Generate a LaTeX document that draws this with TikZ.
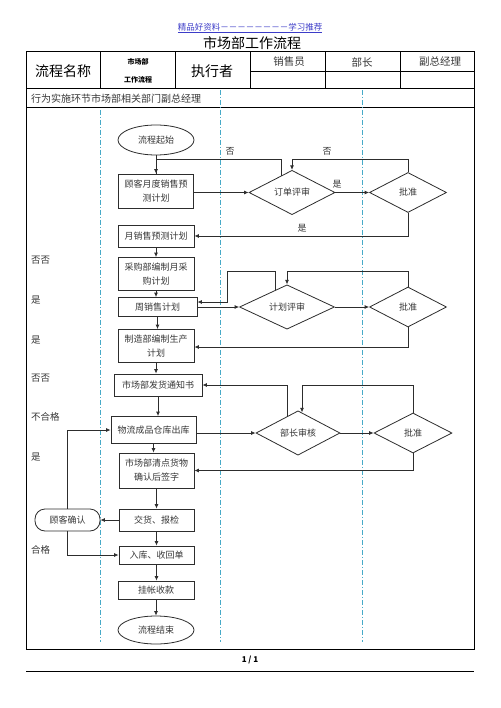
\documentclass[tikz,border=0pt]{standalone}
\usepackage{fontspec}
\setmainfont{Noto Sans CJK SC}
\usetikzlibrary{shapes.geometric,arrows.meta,calc}
\definecolor{lanec}{RGB}{70,170,200}
\definecolor{linkblue}{RGB}{60,60,200}
\definecolor{txt}{RGB}{55,55,55}
\definecolor{edgec}{RGB}{45,45,45}
\begin{document}
\begin{tikzpicture}[x=1pt,y=-1pt,
  box/.style={draw=edgec, line width=0.8pt, fill=white, font=\fontsize{9}{14}\selectfont, text=txt, align=center, inner sep=0pt},
  dia/.style={diamond, draw=edgec, line width=0.8pt, fill=white, inner sep=0pt, font=\fontsize{9}{11}\selectfont, text=txt},
  ell/.style={ellipse, draw=edgec, line width=0.8pt, fill=white, inner sep=0pt, font=\fontsize{9}{11}\selectfont, text=txt},
  conn/.style={draw=edgec, line width=0.8pt},
  arr/.style={draw=edgec, line width=0.8pt, -{Latex[length=4.5pt,width=4pt]}},
  laneline/.style={draw=lanec, line width=0.7pt, dash pattern=on 5pt off 2pt on 1pt off 2pt},
  lbl/.style={font=\fontsize{9}{10}\selectfont, text=txt, inner sep=0pt},
  side/.style={font=\fontsize{9.5}{11}\selectfont, text=txt, inner sep=0pt, anchor=west},
  head/.style={font=\fontsize{10.5}{12}\selectfont, text=txt, inner sep=0pt},
  big/.style={font=\fontsize{14}{16}\selectfont, text=black, inner sep=0pt}
]
\useasboundingbox (0,0) rectangle (500,708);

% header texts
\node[text=linkblue, font=\fontsize{8.5}{10}\selectfont, inner sep=0pt] (link) at (250,28) {\underline{精品好资料－－－－－－－－学习推荐}};
\node[big] (title) at (252,43) {市场部工作流程};

% table
\draw[line width=1pt] (26,52) rectangle (474,649);
\draw[line width=1pt] (26,89) -- (474,89);
\draw[line width=1pt] (26,108) -- (474,108);
\foreach \x in {100,175,250,325,400} \draw[line width=1pt] (\x,52) -- (\x,89);
\draw[line width=0.8pt] (250,71) -- (474,71);

\node[big] (h1) at (63,71) {流程名称};
\node[font=\fontsize{7}{8}\selectfont\bfseries, inner sep=0pt] (h2a) at (138,62) {市场部};
\node[font=\fontsize{7}{8}\selectfont\bfseries, inner sep=0pt] (h2b) at (138,80) {工作流程};
\node[big] (h3) at (212,71) {执行者};
\node[head] (h4) at (289,62) {销售员};
\node[head] (h5) at (362,62) {部长};
\node[head] (h6) at (440,62) {副总经理};
\node[font=\fontsize{10}{12}\selectfont, text=txt, inner sep=0pt, anchor=west] (row) at (31,99) {行为实施环节市场部相关部门副总经理};

% lanes
\draw[laneline] (100,110) -- (100,642);
\draw[laneline] (220,90) -- (220,642);
\draw[laneline] (362,90) -- (362,642);

% main column
\node[ell, minimum width=76pt, minimum height=30pt] (start) at (156,140) {流程起始};
\node[box, minimum width=75pt, minimum height=34pt] (b1) at (156,191) {顾客月度销售预\\测计划};
\node[box, minimum width=76pt, minimum height=22pt] (b2) at (156,236) {月销售预测计划};
\node[box, minimum width=76pt, minimum height=33pt] (b3) at (156,274) {采购部编制月采\\购计划};
\node[box, minimum width=79pt, minimum height=19pt] (b4) at (157.5,307) {周销售计划};
\node[box, minimum width=76pt, minimum height=33pt] (b5) at (156,346) {制造部编制生产\\计划};
\node[box, minimum width=88pt, minimum height=22pt] (b6) at (158,385) {市场部发货通知书};
\node[box, minimum width=85pt, minimum height=27pt] (b7) at (153.5,430) {物流成品仓库出库};
\node[box, minimum width=75pt, minimum height=35pt] (b8) at (156.5,470.5) {市场部清点货物\\确认后签字};
\node[box, minimum width=75pt, minimum height=22pt] (b9) at (156.5,520) {交货、报检};
\node[box, minimum width=75pt, minimum height=18pt] (b10) at (156.5,555) {入库、收回单};
\node[box, minimum width=76pt, minimum height=18pt] (b11) at (156,590) {挂帐收款};
\node[ell, minimum width=76pt, minimum height=28pt] (end) at (156,630) {流程结束};
\node[box, rounded corners=10pt, minimum width=65pt, minimum height=22pt] (cc) at (67.5,520) {顾客确认};

% diamonds
\node[dia, minimum width=86pt, minimum height=37pt] (dA) at (292,192.5) {订单评审};
\node[dia, minimum width=77pt, minimum height=40pt] (aA) at (408,192.5) {批准};
\node[dia, minimum width=95pt, minimum height=40pt] (dB) at (287,307) {计划评审};
\node[dia, minimum width=77pt, minimum height=40pt] (aB) at (408,307) {批准};
\node[dia, minimum width=84pt, minimum height=40pt] (dC) at (298,433) {部长审核};
\node[dia, minimum width=78pt, minimum height=40pt] (aC) at (413,433) {批准};

% level coordinates
\coordinate (yA) at (0,159);
\coordinate (cB) at (227,271);
\coordinate (yC) at (0,385.5);

% vertical flow
\draw[conn] (start.south) -- (b1.north);
\draw[arr] (b2.south) -- (b2.south |- b3.north);
\draw[arr] (b3.south) -- (b3.south |- b4.north);
\draw[arr] (b4.south) -- (b4.south |- b5.north);
\draw[arr] (b5.south) -- (b5.south |- b6.north);
\draw[arr] (b6.south) -- (b6.south |- b7.north);
\draw[arr] (b7.south) -- (b7.south |- b8.north);
\draw[arr] (b8.south) -- (b8.south |- b9.north);
\draw[arr] (b9.south) -- (b9.south |- b10.north);
\draw[arr] (b10.south) -- (b10.south |- b11.north);
\draw[arr] (b11.south) -- (b11.south |- end.north);

% block A
\draw[arr] (b1.east |- dA.west) -- (dA.west);
\draw[arr] (dA.east) -- (aA.west);
\draw[arr] ($(dA.north)!0.25!(dA.west)$) |- (b1.north |- yA) -- (b1.north);
\draw[arr] (aA.north) |- (dA.north |- yA) -- (dA.north);
\draw[arr] (aA.south) |- (b2.east);
\node[lbl] (nA1) at (230,151) {否};
\node[lbl] (nA2) at (327,151) {否};
\node[lbl] (yA1) at (337,184) {是};
\node[lbl] (yA2) at (302,228) {是};

% block B
\draw[arr] (b4.east) -- (dB.west);
\draw[arr] (dB.east) -- (aB.west);
\draw[arr] ($(dB.north)!0.25!(dB.west)$) |- (cB) |- ($(b4.east)+(0,-5)$);
\draw[arr] (aB.north) |- (dB.north |- cB) -- (dB.north);
\draw[arr] (aB.south) |- ($(b5.east)+(0,1)$);

% block C
\draw[arr] (b7.east |- dC.west) -- (dC.west);
\draw[arr] (dC.east) -- (aC.west);
\draw[arr] ($(dC.north)!0.25!(dC.west)$) |- (b6.east);
\draw[arr] (aC.north) |- ($(dC.north |- yC)+(4,0)$) -- ($(dC.north)+(4,2)$);
\draw[arr] (aC.south) |- (b8.east);

% customer confirm
\draw[arr] (b9.west) -- (cc.east);
\draw[arr] (cc.north) |- (b7.west);
\draw[arr] (cc.south) |- (b10.west);

% side labels
\node[side] (s1) at (31,260) {否否};
\node[side] (s2) at (31,300) {是};
\node[side] (s3) at (31,340) {是};
\node[side] (s4) at (31,378) {否否};
\node[side] (s5) at (31,417) {不合格};
\node[side] (s6) at (31,457) {是};
\node[side] (s7) at (31,550) {合格};

% footer
\node[font=\fontsize{8}{9}\selectfont\bfseries, inner sep=0pt] (page) at (250,660) {1 / 1};
\draw[line width=1pt] (26,671) -- (474,671);
\end{tikzpicture}
\end{document}
